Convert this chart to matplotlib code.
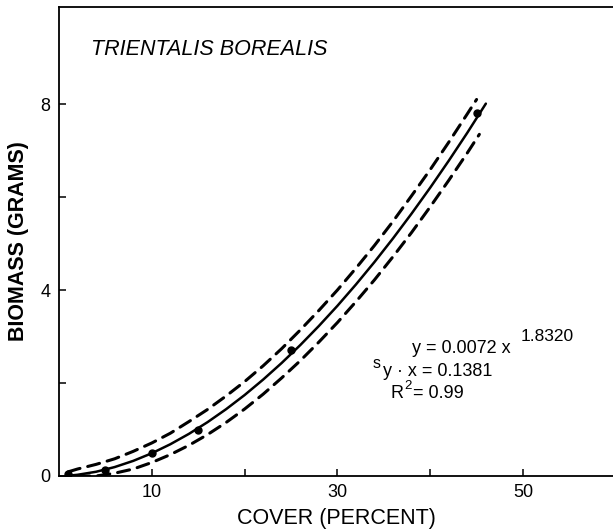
"""
    Biomass vs cover, Trientalis borealis
"""
#==============================================================================
#                   Modules
#==============================================================================
import matplotlib
matplotlib.use('Agg')
import matplotlib.pyplot as plt

plt.rcParams['font.family'] = ['Liberation Sans', 'DejaVu Sans']

#==============================================================================
#                  Data
#==============================================================================
# sampled points
cover_pts = [1, 5, 10, 15, 25, 45]
mass_pts = [0.05, 0.12, 0.5, 1.0, 2.7, 7.8]

# fitted curve y = 0.0072 x^1.8320
cover_fit = [1, 2, 4, 6, 8, 10, 12, 14, 16, 18, 20, 22, 24, 26, 28, 30,
             32, 34, 36, 38, 40, 42, 44, 46]
mass_fit = [0.007, 0.026, 0.091, 0.192, 0.325, 0.489, 0.683, 0.906, 1.157,
            1.436, 1.741, 2.074, 2.432, 2.816, 3.226, 3.660, 4.120, 4.604,
            5.113, 5.646, 6.202, 6.782, 7.384, 8.011]

# upper confidence band
cover_up = [1, 2, 4, 6, 8, 10, 12, 14, 16, 18, 20, 22, 24, 26, 28, 30,
            32, 34, 36, 38, 40, 42, 44, 45]
mass_up = [0.09, 0.15, 0.25, 0.37, 0.53, 0.71, 0.92, 1.17, 1.43, 1.72, 2.03,
           2.37, 2.74, 3.14, 3.56, 4.00, 4.47, 4.96, 5.48, 6.03, 6.59, 7.18,
           7.79, 8.10]

# lower confidence band
cover_lo = [2, 4, 6, 8, 10, 12, 14, 16, 18, 20, 22, 24, 26, 28, 30,
            32, 34, 36, 38, 40, 42, 44, 45.3]
mass_lo = [0.0, 0.0, 0.06, 0.15, 0.29, 0.46, 0.66, 0.89, 1.15, 1.44, 1.76,
           2.11, 2.48, 2.88, 3.30, 3.75, 4.22, 4.72, 5.24, 5.79, 6.36, 6.95,
           7.35]

#==============================================================================
fig = plt.figure(figsize=(6.13, 5.29), dpi=100)
ax = fig.add_axes([0.0962, 0.1002, 0.9038, 0.8866])

ax.plot(cover_fit, mass_fit, 'k-', lw=1.8, solid_capstyle='round')
ax.plot(cover_up, mass_up, 'k-', lw=2.2, dashes=(4, 2.6), dash_capstyle='round')
ax.plot(cover_lo, mass_lo, 'k-', lw=2.2, dashes=(4, 2.6), dash_capstyle='round')
ax.plot(cover_pts, mass_pts, 'ko', ms=5)

ax.set_xlim(0, 59.7)
ax.set_ylim(0, 10.09)

ax.set_xticks([10, 30, 50])
ax.set_xticks([20, 40], minor=True)
ax.set_yticks([0, 4, 8])
ax.set_yticks([2, 6], minor=True)
ax.tick_params(which='both', direction='in', length=5, width=1.1,
               labelsize=13, pad=6)

for side in ['left', 'top', 'bottom']:
    ax.spines[side].set_linewidth(1.3)
ax.spines['right'].set_visible(False)

ax.set_xlabel('COVER (PERCENT)', fontsize=15.5, labelpad=5)
ax.set_ylabel('BIOMASS (GRAMS)', fontsize=15.5, fontweight='bold', labelpad=8)

ax.text(3.5, 9.05, 'TRIENTALIS BOREALIS', fontsize=15.5, style='italic')

# regression statistics
ax.text(38.0, 2.64, 'y = 0.0072 x', fontsize=13)
ax.text(49.7, 2.90, '1.8320', fontsize=12.5)
ax.text(33.8, 2.32, 's', fontsize=11.5)
ax.text(34.9, 2.15, 'y · x = 0.1381', fontsize=13)
ax.text(35.7, 1.68, 'R', fontsize=13)
ax.text(37.2, 1.88, '2', fontsize=9.5)
ax.text(38.1, 1.68, '= 0.99', fontsize=13)

plt.savefig('out.png', dpi=100)
